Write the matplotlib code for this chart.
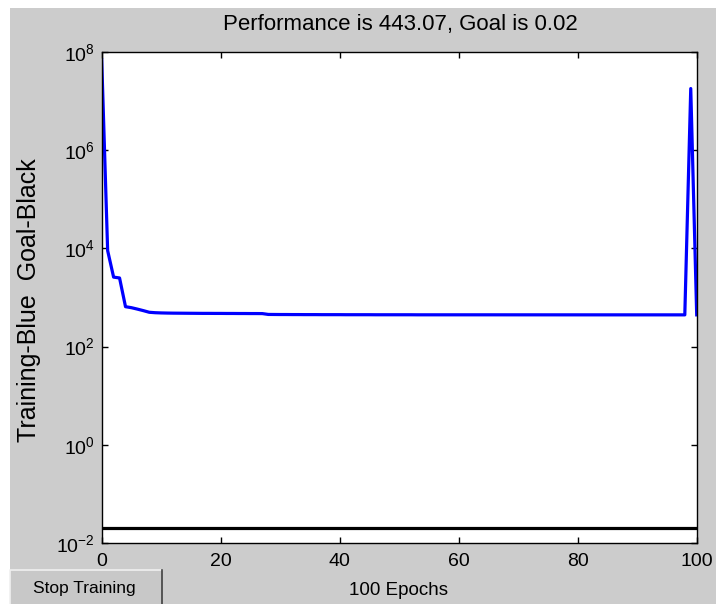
import numpy as np
import matplotlib
matplotlib.use('Agg')
import matplotlib.pyplot as plt
from matplotlib.patches import Rectangle
from matplotlib.lines import Line2D
from matplotlib.ticker import NullLocator

# training record (one value per epoch, 0..100)
perf = [7.0e7, 9.0e3, 2.6e3, 2.5e3, 650, 620, 580, 540, 500, 490,
        485, 482, 480, 479, 478, 477, 476, 475, 475, 474,
        474, 473, 473, 472, 472, 471, 471, 470,
        452, 451, 450, 450, 449, 449, 448, 448, 448, 447,
        447, 447, 447, 446, 446, 446, 446, 446, 445, 445,
        445, 445, 445, 445, 445, 444, 444, 444, 444, 444,
        444, 444, 444, 444, 444, 444, 444, 444, 443.9, 443.9,
        443.8, 443.8, 443.7, 443.7, 443.6, 443.6, 443.5, 443.5, 443.5, 443.4,
        443.4, 443.4, 443.3, 443.3, 443.3, 443.3, 443.2, 443.2, 443.2, 443.2,
        443.2, 443.1, 443.1, 443.1, 443.1, 443.1, 443.1, 443.07, 443.07, 443.07,
        443.07, 1.8e7, 443.07]
epochs = np.arange(len(perf))
goal = 0.02
xticks = [0, 20, 40, 60, 80, 100]
yticks = [1e-2, 1e0, 1e2, 1e4, 1e6, 1e8]

plt.rcParams['font.family'] = ['Liberation Sans', 'DejaVu Sans']
plt.rcParams['mathtext.default'] = 'regular'

W, H = 716, 604
fig = plt.figure(figsize=(W / 100, H / 100), dpi=100, facecolor='white')
gray = '#cccccc'
fig.patches.append(Rectangle((10 / W, 0), 1 - 10 / W, 1 - 8 / H, transform=fig.transFigure,
                             facecolor=gray, edgecolor='none', zorder=-10))

ax = fig.add_axes([101.7 / W, 1 - 543 / H, 595 / W, 491 / H])
ax.set_facecolor('white')

ax.semilogy(epochs, perf, color='#0000ff', lw=2.3)
ax.plot([0, 100], [goal, goal], color='black', lw=2.3)

ax.set_xlim(0, 100)
ax.set_ylim(1e-2, 1e8)
ax.set_xticks(xticks)
ax.set_yticks(yticks)
ax.yaxis.set_minor_locator(NullLocator())
ax.tick_params(direction='in', length=4, width=1, top=True, right=True,
               labelsize=14, colors='black')
ax.tick_params(axis='x', pad=7)
ax.tick_params(axis='y', pad=5)
for s in ax.spines.values():
    s.set_linewidth(1)
    s.set_color('black')

fig.text(400 / W, 1 - 30 / H, 'Performance is 443.07, Goal is 0.02', ha='center',
         va='baseline', fontsize=16)
fig.text(399 / W, 1 - 595 / H, '100 Epochs', ha='center', va='baseline', fontsize=13.5)
fig.text(29 / W, 1 - 300 / H, 'Training-Blue  Goal-Black', rotation=90, ha='center',
         va='center', fontsize=18)

# "Stop Training" button in the corner
bx0, by0, bx1, by1 = 10, 570, 162, 604
fig.patches.append(Rectangle((bx0 / W, 1 - by1 / H), (bx1 - bx0) / W, (by1 - by0) / H,
                             transform=fig.transFigure, facecolor='#c8c8c8',
                             edgecolor='none', zorder=1))
fig.lines.append(Line2D([bx0 / W, bx0 / W, bx1 / W], [1 - by1 / H, 1 - by0 / H, 1 - by0 / H],
                        transform=fig.transFigure, color='#f0f0f0', lw=1.2, zorder=2))
fig.lines.append(Line2D([bx1 / W, bx1 / W], [1 - by0 / H, 1 - by1 / H],
                        transform=fig.transFigure, color='#404040', lw=1.2, zorder=2))
fig.text(84 / W, 1 - 593 / H, 'Stop Training', ha='center', va='baseline', fontsize=12.5,
         zorder=3)

fig.savefig('out.png', dpi=100, facecolor=fig.get_facecolor())
